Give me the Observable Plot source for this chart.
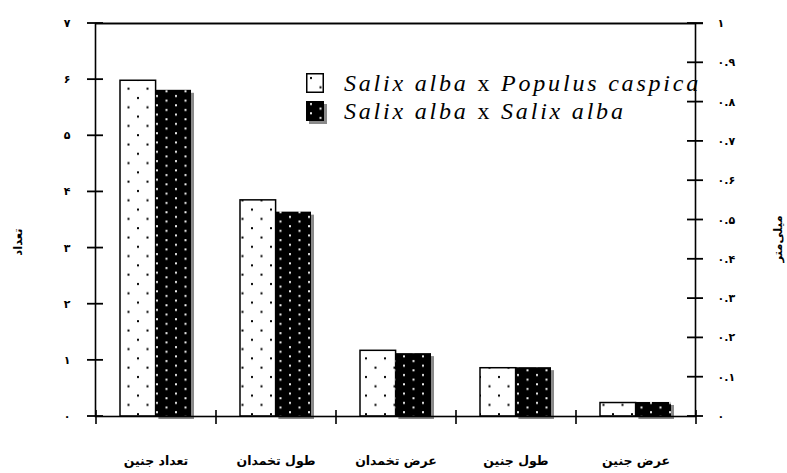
<!DOCTYPE html>
<html><head><meta charset="utf-8">
<script src="https://cdn.jsdelivr.net/npm/d3@7"></script>
<script src="https://cdn.jsdelivr.net/npm/@observablehq/plot@0.6"></script>
<style>
body{margin:0;background:#fff}
#wrap{position:relative;width:787px;height:473px}
#legend{position:absolute;left:306px;top:69px;font-family:"Liberation Serif","DejaVu Serif",serif;font-size:24px;color:#000;letter-spacing:2.8px}
#legend .row{display:flex;align-items:center;height:28px;white-space:nowrap}
#legend svg{margin-right:20px;overflow:visible}
#legend i{font-style:italic}
</style></head><body><div id="wrap"><div id="legend"></div></div>
<script>
const categories = ["تعداد جنین", "طول تخمدان", "عرض تخمدان", "طول جنین", "عرض جنین"];
const seriesNames = ["Salix alba x Populus caspica", "Salix alba x Salix alba"];
const hybridValues = [5.98, 3.85, 1.17, 0.86, 0.24];
const pureValues = [5.81, 3.64, 1.12, 0.87, 0.25];
const leftTicks = [0, 1, 2, 3, 4, 5, 6, 7];
const leftTickLabels = ["۰", "۱", "۲", "۳", "۴", "۵", "۶", "۷"];
const rightTicks = [0, 0.1, 0.2, 0.3, 0.4, 0.5, 0.6, 0.7, 0.8, 0.9, 1];
const rightTickLabels = ["۰", "۰.۱", "۰.۲", "۰.۳", "۰.۴", "۰.۵", "۰.۶", "۰.۷", "۰.۸", "۰.۹", "۱"];
const leftTitle = "تعداد";
const rightTitle = "میلی‌متر";

const W = 787, H = 473;
const mL = 95, mR = 92, mT = 23, mB = 57;
const innerW = W - mL - mR;
const padIn = 0.41, padOut = 0.205;
const step = innerW / (categories.length - padIn + 2 * padOut);
const half = step * (1 - padIn) / 2;
const tickHalf = 8;
const leftMax = d3.max(leftTicks), rightMax = d3.max(rightTicks);
const toLeft = v => v * leftMax / rightMax;
const rightTicksOnLeft = rightTicks.map(toLeft);

const hybrid = categories.map((c, i) => ({category: c, value: hybridValues[i]}));
const pure = categories.map((c, i) => ({category: c, value: pureValues[i]}));

const defsMark = () => {
  const g = d3.create("svg:g");
  g.html(`<defs>
    <pattern id="pWhite" width="19" height="18.6" patternUnits="userSpaceOnUse">
      <rect width="19" height="18.6" fill="#fff"/>
      <rect x="4" y="4" width="2" height="2" fill="#000"/>
      <rect x="13.5" y="13.3" width="2" height="2" fill="#000"/>
    </pattern>
    <pattern id="pBlack" width="19" height="9.3" patternUnits="userSpaceOnUse">
      <rect width="19" height="9.3" fill="#000"/>
      <rect x="4" y="2" width="2" height="2" fill="#eee"/>
      <rect x="13.5" y="6.65" width="2" height="2" fill="#eee"/>
    </pattern>
  </defs>`);
  return g.node();
};

// crossing ticks on both vertical axes, placed with the plot's y scale
const crossTicks = (index, scales, values, dims) => {
  const y = scales.y;
  const g = d3.create("svg:g").attr("stroke", "#000").attr("stroke-width", 1.8);
  const xl = dims.marginLeft, xr = dims.width - dims.marginRight;
  leftTicks.forEach(t => g.append("line").attr("x1", xl - tickHalf).attr("x2", xl + tickHalf).attr("y1", y(t)).attr("y2", y(t)));
  rightTicksOnLeft.forEach(t => g.append("line").attr("x1", xr - tickHalf).attr("x2", xr + tickHalf).attr("y1", y(t)).attr("y2", y(t)));
  return g.node();
};

const arabicFont = "DejaVu Sans";
const lineStyle = {stroke: "#000", strokeWidth: 1.6};

const chart = Plot.plot({
  width: W, height: H,
  marginLeft: mL, marginRight: mR, marginTop: mT, marginBottom: mB,
  style: {fontFamily: arabicFont, fontSize: "11px", fontWeight: "bold", color: "#000", background: "#fff"},
  x: {domain: categories, type: "band", paddingInner: padIn, paddingOuter: padOut, axis: null},
  y: {domain: [0, leftMax], axis: null},
  marks: [
    defsMark,
    Plot.barY(pure, {x: "category", y: "value", insetLeft: half, fill: "#8a8a8a", dx: 3, dy: 3}),
    Plot.barY(hybrid, {x: "category", y: "value", insetRight: half, fill: "url(#pWhite)", stroke: "#000", strokeWidth: 1.5}),
    Plot.barY(pure, {x: "category", y: "value", insetLeft: half, fill: "url(#pBlack)"}),
    Plot.frame(lineStyle),
    Plot.ruleY([leftMax], {...lineStyle, insetRight: -tickHalf}),
    crossTicks,
    Plot.axisY({anchor: "left", ticks: leftTicks, tickSize: 0, tickPadding: 25,
      tickFormat: d => leftTickLabels[leftTicks.indexOf(d)], label: null, fontWeight: "bold"}),
    Plot.axisY({anchor: "right", ticks: rightTicksOnLeft, tickSize: 0, tickPadding: 22,
      tickFormat: d => rightTickLabels[rightTicksOnLeft.findIndex(t => Math.abs(t - d) < 1e-9)], label: null, fontWeight: "bold"}),
    Plot.axisX({anchor: "bottom", tickSize: 0, tickPadding: 40, label: null, fontWeight: "bold", fontSize: 12.5}),
    Plot.ruleX(categories, {x: d => d, y1: 0, y2: 0, dx: -step / 2, insetTop: -6, insetBottom: -8, ...lineStyle}),
    Plot.ruleX([categories[categories.length - 1]], {x: d => d, y1: 0, y2: 0, dx: step / 2, insetTop: -6, insetBottom: -8, ...lineStyle}),
    Plot.text([leftTitle], {text: d => d, frameAnchor: "left", textAnchor: "middle", dx: -77, dy: 22, rotate: -90, fontWeight: "bold", fontSize: 11.5}),
    Plot.text([rightTitle], {text: d => d, frameAnchor: "right", textAnchor: "middle", dx: 83, dy: 19, rotate: -90, fontWeight: "bold", fontSize: 11.5})
  ]
});
document.getElementById("wrap").prepend(chart);

const legend = document.getElementById("legend");
const box = (fill, shadow) => `<svg width="18" height="20" viewBox="0 0 18 20">${shadow ? '<rect x="3" y="3" width="18" height="20" fill="#8a8a8a"/>' : ''}<rect x="0.75" y="0.75" width="16.5" height="18.5" fill="${fill}" stroke="#000" stroke-width="1.5"/></svg>`;
const fmt = name => name.split(" x ").map(p => `<i>${p}</i>`).join(" x ");
legend.innerHTML =
  `<div class="row">${box("url(#pWhite)", false)}<span>${fmt(seriesNames[0])}</span></div>` +
  `<div class="row">${box("url(#pBlack)", true)}<span>${fmt(seriesNames[1])}</span></div>`;
</script>
</body></html>
